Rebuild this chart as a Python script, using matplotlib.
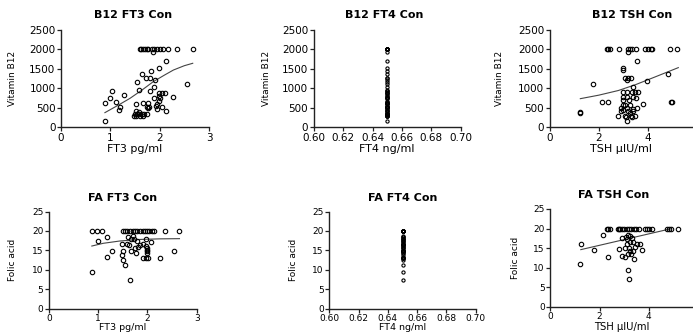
import matplotlib
matplotlib.use("Agg")
import matplotlib.pyplot as plt

# ---- data ----
# B12 vs FT3
ft3_b12_x = [1.60, 1.63, 1.66, 1.70, 1.75, 1.77, 1.84, 1.89, 1.94, 2.01, 2.07, 2.16, 2.36, 2.67,
             1.87, 2.13, 1.99, 1.82, 1.64, 1.72, 1.80, 1.91, 1.55, 2.56, 1.03, 1.59, 1.80, 1.89,
             1.28, 0.99, 1.11, 0.89, 1.20, 1.18, 1.99, 2.04, 2.11, 1.99, 2.00, 1.99, 2.28, 1.89,
             1.77, 1.67, 1.53, 1.95, 1.79, 1.74, 2.04, 1.93, 1.95, 1.77, 2.13, 1.52,
             1.50, 1.55, 1.59, 1.64, 1.68, 1.74, 1.48, 1.53, 1.60, 1.66, 1.59, 0.89]
ft3_b12_y = [2000, 2000, 2000, 2000, 2000, 2000, 2000, 2000, 2000, 2000, 2000, 2000, 2000, 2000,
             1925, 1700, 1530, 1450, 1357, 1272, 1272, 1210, 1168, 1117, 936, 953, 928, 1040,
             825, 740, 653, 610, 524, 430, 868, 868, 868, 800, 740, 680, 765, 755,
             610, 610, 593, 593, 524, 524, 524, 530, 464, 480, 412, 412,
             327, 327, 327, 327, 327, 327, 285, 285, 285, 285, 378, 155]
ft3_b12_fit_x = [0.89, 1.15, 1.40, 1.65, 1.87, 2.10, 2.28, 2.50, 2.67]
ft3_b12_fit_y = [370, 555, 740, 960, 1168, 1340, 1469, 1580, 1642]

# FT4 is the same value for every subject
ft4_value = 0.65

# B12 vs TSH
tsh_b12_x = [2.33, 2.39, 2.46, 2.84, 3.21, 3.28, 3.35, 3.52, 3.89, 4.02, 4.12, 4.16, 4.91, 5.21,
             3.21, 3.58, 2.98, 2.98, 3.07, 3.21, 3.31, 3.14, 3.96, 4.84, 1.78, 3.39,
             3.00, 3.17, 3.35, 3.48, 3.62, 3.00, 3.17, 3.39, 3.00, 3.25, 3.52,
             2.12, 2.39, 4.94, 4.98, 3.80, 3.00, 3.07, 3.27, 3.55, 2.93, 3.17,
             1.24, 1.24, 2.93, 3.21, 3.41, 2.80, 3.07, 3.31, 3.48, 3.12, 3.35, 3.17,
             3.27, 3.00, 3.41]
tsh_b12_y = [2000, 2000, 2000, 2000, 2000, 2000, 2000, 2000, 2000, 2000, 2000, 2000, 2000, 2000,
             1925, 1700, 1530, 1460, 1270, 1270, 1270, 1210, 1185, 1357, 1108, 1023,
             900, 900, 900, 900, 900, 780, 780, 780, 696, 696, 740,
             637, 637, 637, 645, 593, 560, 560, 560, 497, 490, 490,
             387, 353, 412, 412, 412, 291, 291, 291, 291, 250, 250, 155,
             353, 438, 464]
tsh_b12_fit_x = [1.25, 2.00, 2.80, 3.50, 4.30, 5.25]
tsh_b12_fit_y = [730, 820, 940, 1090, 1290, 1530]

# Folic acid vs FT3
ft3_fa_x = [0.87, 0.97, 1.07, 1.50, 1.55, 1.59, 1.64, 1.70, 1.75, 1.79, 1.84, 1.90, 1.95, 1.99,
            2.04, 2.09, 2.14, 2.36, 2.65,
            1.17, 1.00, 1.61, 1.70, 1.73, 1.66, 1.78, 1.97, 2.07, 1.48, 1.58, 1.63, 1.85, 1.90,
            1.81, 1.97, 1.99, 1.99, 1.99, 1.75, 1.27, 1.50, 1.66, 1.77, 1.99, 2.54, 1.48, 1.17,
            2.25, 1.90, 1.97, 2.01, 1.50, 1.54, 0.88, 1.65]
ft3_fa_y = [20, 20, 20, 20, 20, 20, 20, 20, 20, 20, 20, 20, 20, 20,
            20, 20, 20, 20, 20,
            18.3, 17.4, 18.5, 18.6, 18.0, 17.8, 17.4, 17.8, 17.1, 16.6, 16.6, 16.3, 16.3, 16.6,
            15.9, 16.0, 15.5, 14.8, 15.2, 15.5, 14.8, 14.8, 14.8, 14.3, 14.3, 14.7, 13.7, 13.3,
            13.1, 12.9, 12.9, 12.9, 12.4, 11.1, 9.4, 7.3]
ft3_fa_fit_x = [0.87, 1.10, 1.44, 1.85, 2.25, 2.65]
ft3_fa_fit_y = [16.1, 16.8, 17.4, 17.8, 17.95, 18.0]

# Folic acid vs TSH
tsh_fa_x = [2.29, 2.36, 2.43, 2.76, 2.83, 2.81, 2.90, 2.99, 3.10, 3.21, 3.29, 3.39, 3.50, 3.61,
            3.85, 3.94, 4.02, 4.12, 4.73, 4.83, 4.91, 5.20,
            2.13, 1.24, 1.78, 1.21, 2.36, 2.90, 3.08, 3.17, 3.24, 3.13, 3.31,
            3.37, 3.51, 3.24, 3.13, 3.65, 3.44, 3.21, 3.04, 2.81, 3.71, 3.24, 3.37,
            3.17, 3.27, 2.90, 3.04, 3.40, 3.17, 3.21]
tsh_fa_y = [20, 20, 20, 20, 20, 20, 20, 20, 20, 20, 20, 20, 20, 20,
            20, 20, 20, 20, 20, 20, 20, 20,
            18.3, 16.1, 14.4, 10.8, 12.7, 17.6, 17.8, 18.3, 18.1, 17.2, 17.5,
            16.6, 16.1, 16.6, 16.1, 16.1, 15.3, 15.1, 15.1, 14.7, 14.5, 14.2, 14.2,
            13.6, 13.4, 13.0, 12.7, 12.3, 9.3, 7.2]
tsh_fa_fit_x = [1.24, 4.87]
tsh_fa_fit_y = [14.6, 19.9]

W, H = 693, 336
plt.rcParams['font.family'] = ['DejaVu Sans']
fig = plt.figure(figsize=(W / 100, H / 100), dpi=100)


def make_axes(left, top, right, bottom, tsize=7.5):
    ax = fig.add_axes([left / W, 1 - bottom / H, (right - left) / W, (bottom - top) / H])
    for s in ['top', 'right']:
        ax.spines[s].set_visible(False)
    for s in ['left', 'bottom']:
        ax.spines[s].set_linewidth(1.0)
        ax.spines[s].set_color('#222222')
    ax.tick_params(direction='out', length=3, width=0.9, labelsize=tsize, pad=1.0,
                   colors='#222222', labelcolor='black')
    ax.patch.set_alpha(0)
    return ax


def put_title(text, x, y):
    fig.text(x / W, 1 - y / H, text, ha='center', va='center', fontsize=8, fontweight='bold')


def put_ylabel(ax, text, off_px, width_px):
    ax.set_ylabel(text, fontsize=6.5)
    ax.yaxis.set_label_coords(-off_px / width_px, 0.5)


def put_xlabel(ax, text, top_px, height_px, size=8):
    # top of the label sits top_px under the x axis
    ax.set_xlabel(text, fontsize=size, va='top')
    ax.xaxis.set_label_coords(0.5, -top_px / height_px)


def scatter(ax, x, y, ms=3.2):
    ax.plot(x, y, 'o', mfc='none', mec='black', ms=ms, mew=0.8, clip_on=False, zorder=3)


# ---- top row: B12 ----
ax1 = make_axes(61, 30, 209, 127)
scatter(ax1, ft3_b12_x, ft3_b12_y)
ax1.plot(ft3_b12_fit_x, ft3_b12_fit_y, color='#444444', lw=0.8)
ax1.set_xlim(0, 3)
ax1.set_xticks([0, 1, 2, 3])
ax1.set_ylim(0, 2500)
ax1.set_yticks([0, 500, 1000, 1500, 2000, 2500])
put_xlabel(ax1, 'FT3 pg/ml', 17, 97)
put_ylabel(ax1, 'Vitamin B12', 44, 148)
put_title('B12 FT3 Con', 133, 15.5)

ax2 = make_axes(313.7, 30, 460.7, 127)
scatter(ax2, [ft4_value] * len(ft3_b12_y), ft3_b12_y, ms=2.3)
ax2.set_xlim(0.60, 0.70)
ax2.set_xticks([0.60, 0.62, 0.64, 0.66, 0.68, 0.70])
ax2.set_xticklabels(['0.60', '0.62', '0.64', '0.66', '0.68', '0.70'])
ax2.set_ylim(0, 2500)
ax2.set_yticks([0, 500, 1000, 1500, 2000, 2500])
put_xlabel(ax2, 'FT4 ng/ml', 17, 97)
put_ylabel(ax2, 'Vitamin B12', 43, 147)
put_title('B12 FT4 Con', 384, 15.5)

ax3 = make_axes(549.7, 30, 693, 127)
scatter(ax3, tsh_b12_x, tsh_b12_y)
ax3.plot(tsh_b12_fit_x, tsh_b12_fit_y, color='#444444', lw=0.8)
ax3.set_xlim(0, 5.85)
ax3.set_xticks([0, 2, 4])
ax3.set_ylim(0, 2500)
ax3.set_yticks([0, 500, 1000, 1500, 2000, 2500])
put_xlabel(ax3, 'TSH \u03bcIU/ml', 17, 97)
put_ylabel(ax3, 'Vitamin B12', 46, 143.3)
put_title('B12 TSH Con', 632, 15.5)

# ---- bottom row: folic acid ----
ax4 = make_axes(49, 211.5, 196.7, 308.5, tsize=6.5)
scatter(ax4, ft3_fa_x, ft3_fa_y)
ax4.plot(ft3_fa_fit_x, ft3_fa_fit_y, color='#444444', lw=0.8)
ax4.set_xlim(0, 3)
ax4.set_xticks([0, 1, 2, 3])
ax4.set_ylim(0, 25)
ax4.set_yticks([0, 5, 10, 15, 20, 25])
put_xlabel(ax4, 'FT3 pg/ml', 15, 97, size=6.8)
put_ylabel(ax4, 'Folic acid', 32, 147.7)
put_title('FA FT3 Con', 123, 198)

ax5 = make_axes(329.3, 211.5, 475.7, 308.5, tsize=6.5)
scatter(ax5, [ft4_value] * len(ft3_fa_y), ft3_fa_y, ms=2.3)
ax5.set_xlim(0.60, 0.70)
ax5.set_xticks([0.60, 0.62, 0.64, 0.66, 0.68, 0.70])
ax5.set_xticklabels(['0.60', '0.62', '0.64', '0.66', '0.68', '0.70'])
ax5.set_ylim(0, 25)
ax5.set_yticks([0, 5, 10, 15, 20, 25])
put_xlabel(ax5, 'FT4 ng/ml', 15, 97, size=6.8)
put_ylabel(ax5, 'Folic acid', 31.7, 146.4)
put_title('FA FT4 Con', 402.7, 198)

ax6 = make_axes(550.3, 209, 693, 306.7, tsize=6.5)
scatter(ax6, tsh_fa_x, tsh_fa_y)
ax6.plot(tsh_fa_fit_x, tsh_fa_fit_y, color='#444444', lw=0.8)
ax6.set_xlim(0, 5.8)
ax6.set_xticks([0, 2, 4])
ax6.set_ylim(0, 25)
ax6.set_yticks([0, 5, 10, 15, 20, 25])
put_xlabel(ax6, 'TSH \u03bcIU/ml', 15.3, 97.7, size=7.2)
put_ylabel(ax6, 'Folic acid', 30, 142.7)
put_title('FA TSH Con', 613.7, 195.5)

fig.savefig('out.png', dpi=100)
